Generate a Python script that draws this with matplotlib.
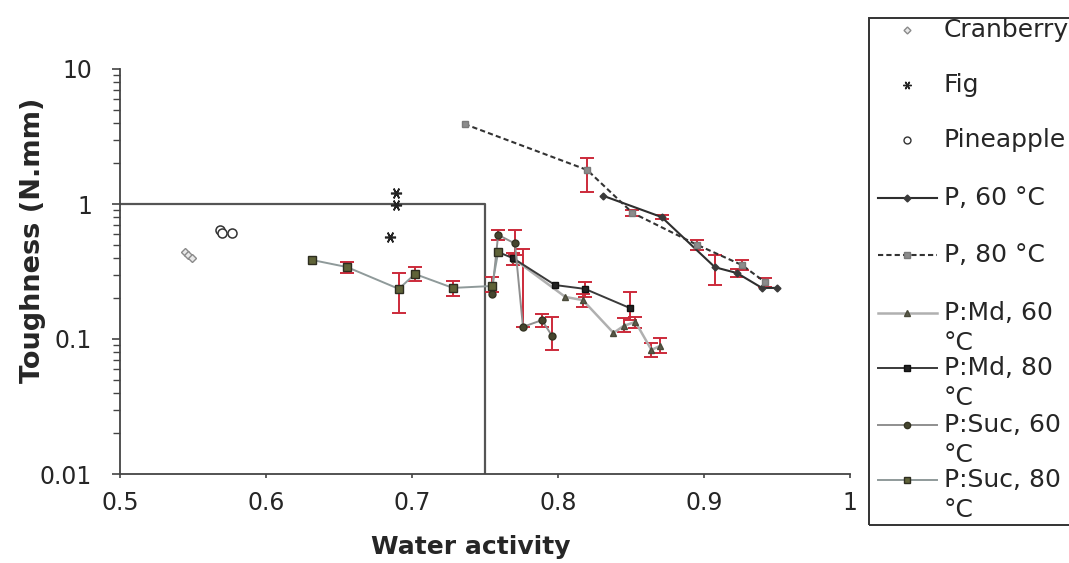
import numpy as np
import matplotlib
matplotlib.use("Agg")
import matplotlib.pyplot as plt
from matplotlib.lines import Line2D
from matplotlib.patches import Rectangle
from matplotlib.ticker import LogLocator, NullFormatter, FixedLocator

plt.rcParams['font.family'] = ['DejaVu Sans']

# ---------------- data ----------------
cran_x = [0.5445, 0.5466, 0.5493]
cran_y = [0.44, 0.419, 0.398]

fig_x = [0.689, 0.689, 0.685]
fig_y = [1.206, 0.983, 0.569]

pine_x = [0.5685, 0.570, 0.5767]
pine_y = [0.642, 0.61, 0.61]

p60_x = [0.831, 0.871, 0.9075, 0.9226, 0.9397, 0.950]
p60_y = [1.15, 0.80, 0.34, 0.308, 0.239, 0.239]
p60_lo = [0, 0.03, 0.09, 0.02, 0, 0]
p60_hi = [0, 0.03, 0.08, 0.02, 0, 0]

p80_x = [0.736, 0.820, 0.851, 0.895, 0.926, 0.9418]
p80_y = [3.91, 1.786, 0.86, 0.50, 0.353, 0.264]
p80_lo = [0, 0.56, 0.04, 0.04, 0.03, 0.02]
p80_hi = [0, 0.40, 0.04, 0.04, 0.03, 0.02]

md60_x = [0.770, 0.805, 0.817, 0.838, 0.845, 0.853, 0.864, 0.870]
md60_y = [0.39, 0.205, 0.194, 0.111, 0.125, 0.134, 0.083, 0.089]
md60_lo = [0, 0, 0.02, 0, 0.012, 0.013, 0.009, 0.01]
md60_hi = [0, 0, 0.02, 0, 0.018, 0.012, 0.011, 0.013]

md80_x = [0.759, 0.769, 0.798, 0.8185, 0.849]
md80_y = [0.44, 0.398, 0.251, 0.235, 0.17]
md80_lo = [0, 0.045, 0, 0.03, 0.032]
md80_hi = [0, 0.036, 0, 0.03, 0.053]

suc60_x = [0.7548, 0.759, 0.7705, 0.776, 0.789, 0.796]
suc60_y = [0.216, 0.59, 0.51, 0.123, 0.138, 0.105]
suc60_lo = [0, 0.05, 0.09, 0.0, 0.015, 0.022]
suc60_hi = [0, 0.05, 0.13, 0.34, 0.015, 0.041]

suc80_x = [0.6315, 0.6555, 0.691, 0.702, 0.728, 0.7548, 0.759]
suc80_y = [0.385, 0.341, 0.235, 0.303, 0.239, 0.247, 0.44]
suc80_lo = [0, 0.033, 0.079, 0.034, 0.031, 0.024, 0]
suc80_hi = [0, 0.031, 0.073, 0.038, 0.030, 0.041, 0]

box_x = [0.5, 0.75, 0.75]
box_y = [1.0, 1.0, 0.01]

xticks = [0.5, 0.6, 0.7, 0.8, 0.9, 1.0]
xticklabels = ['0.5', '0.6', '0.7', '0.8', '0.9', '1']
yticks = [0.01, 0.1, 1, 10]
yticklabels = ['0.01', '0.1', '1', '10']

# ---------------- figure ----------------
W, H = 1069, 563
fig = plt.figure(figsize=(W / 100, H / 100), dpi=100)
ax = fig.add_axes([120 / W, 1 - 474 / H, 730 / W, 405 / H])

TXT = '#262626'
ERR = '#cc2a3a'

ax.plot(box_x, box_y, color='#555555', lw=1.6, zorder=1)

def err(x, y, lo, hi):
    x = np.asarray(x); y = np.asarray(y)
    lo = np.asarray(lo); hi = np.asarray(hi)
    m = (lo > 0) | (hi > 0)
    ax.errorbar(x[m], y[m], yerr=[lo[m], hi[m]], fmt='none', ecolor=ERR,
                elinewidth=1.4, capsize=5, capthick=1.4, zorder=2)

series = [
    (p60_x, p60_y, p60_lo, p60_hi, dict(color='#2e2e2e', lw=1.5, ls='-', marker='D', ms=3.5,
                                          mfc='#3a3a3a', mec='#3a3a3a')),
    (p80_x, p80_y, p80_lo, p80_hi, dict(color='#333333', lw=1.5, ls=(0, (2.5, 1.5)), marker='s', ms=5,
                                          mfc='#8c8c8c', mec='#7a7a7a')),
    (md60_x, md60_y, md60_lo, md60_hi, dict(color='#b0b0b0', lw=1.8, ls='-', marker='^', ms=5,
                                              mfc='#5a5a4a', mec='#4a4a3a')),
    (md80_x, md80_y, md80_lo, md80_hi, dict(color='#3a3a3a', lw=1.4, ls='-', marker='s', ms=5,
                                              mfc='#222222', mec='#111111')),
    (suc60_x, suc60_y, suc60_lo, suc60_hi, dict(color='#8f8f8f', lw=1.4, ls='-', marker='o', ms=5,
                                                  mfc='#45452e', mec='#333322')),
    (suc80_x, suc80_y, suc80_lo, suc80_hi, dict(color='#8f9a9a', lw=1.4, ls='-', marker='s', ms=5.5,
                                                  mfc='#5f6338', mec='#2d2d20')),
]
for sx, sy, lo, hi, kw in series:
    err(sx, sy, lo, hi)
    ax.plot(sx, sy, zorder=3, **kw)

ax.plot(cran_x, cran_y, ls='none', marker='D', ms=4.5, mfc='#e8e8e8', mec='#8a8a8a', mew=1.0, zorder=4)
ax.plot(fig_x, fig_y, ls='none', marker=(6, 2, 90), ms=8, color='#222222', mew=1.2, zorder=4)
ax.plot(pine_x, pine_y, ls='none', marker='o', ms=6.5, mfc='white', mec='#333333', mew=1.1, zorder=4)

ax.set_yscale('log')
ax.set_xlim(0.5, 1.0)
ax.set_ylim(0.01, 10)
for s in ['top', 'right']:
    ax.spines[s].set_visible(False)
for s in ['left', 'bottom']:
    ax.spines[s].set_color('#444444')
    ax.spines[s].set_linewidth(1.3)

ax.xaxis.set_major_locator(FixedLocator(xticks))
ax.set_xticklabels(xticklabels)
ax.yaxis.set_major_locator(FixedLocator(yticks))
ax.set_yticklabels(yticklabels)
ax.yaxis.set_minor_locator(LogLocator(base=10, subs=np.arange(2, 10)))
ax.yaxis.set_minor_formatter(NullFormatter())
ax.tick_params(axis='y', which='major', length=6, width=1.2, color='#444444',
               labelsize=17, labelcolor=TXT, pad=14)
ax.tick_params(axis='y', which='minor', length=5, width=1.0, color='#444444')
ax.tick_params(axis='x', which='major', length=3, width=1.2, color='#444444',
               labelsize=17, labelcolor=TXT, pad=9)

fig.text(33 / W, 1 - 240 / H, 'Toughness (N.mm)', rotation=90, fontsize=19.5,
         fontweight='bold', color=TXT, ha='center', va='center')
fig.text(471 / W, 1 - 547 / H, 'Water activity', fontsize=18,
         fontweight='bold', color=TXT, ha='center', va='center')

# ---------------- legend (drawn in figure pixels) ----------------
def fx(px):
    return px / W

def fy(py):
    return 1 - py / H

fig.add_artist(Rectangle((fx(869), fy(525)), fx(1090) - fx(869), fy(18) - fy(525),
                         transform=fig.transFigure, fill=False, edgecolor='#333333', lw=1.4))

leg_entries = [
    ('Cranberry', None, 30, dict(ls='none', marker='D', ms=3.5, mfc='#e8e8e8', mec='#8a8a8a')),
    ('Fig', None, 85, dict(ls='none', marker=(6, 2, 90), ms=6, color='#222222')),
    ('Pineapple', None, 140, dict(ls='none', marker='o', ms=5, mfc='white', mec='#333333')),
    ('P, 60 °C', None, 198, series[0][4]),
    ('P, 80 °C', None, 255, series[1][4]),
    ('P:Md, 60', '°C', 313, series[2][4]),
    ('P:Md, 80', '°C', 368, series[3][4]),
    ('P:Suc, 60', '°C', 425, series[4][4]),
    ('P:Suc, 80', '°C', 480, series[5][4]),
]
for lab, lab2, py, kw in leg_entries:
    kw2 = dict(kw)
    if kw2.get('ls', '-') != 'none':
        fig.add_artist(Line2D([fx(878), fx(937)], [fy(py), fy(py)], transform=fig.transFigure,
                              color=kw2['color'], lw=kw2['lw'], ls=kw2['ls']))
    m = dict(marker=kw2['marker'], ms=min(kw2.get('ms', 5), 4.5) if kw2.get('ls', '-') != 'none' else kw2['ms'])
    for k in ('mfc', 'mec'):
        if k in kw2:
            m[k] = kw2[k]
    if 'color' in kw2 and 'mfc' not in kw2:
        m['color'] = kw2['color']
    fig.add_artist(Line2D([fx(907)], [fy(py)], transform=fig.transFigure, ls='none', **m))
    fig.text(fx(944), fy(py), lab, fontsize=18, color=TXT, ha='left', va='center')
    if lab2:
        fig.text(fx(944), fy(py + 30), lab2, fontsize=18, color=TXT, ha='left', va='center')

fig.savefig('out.png', dpi=100)
